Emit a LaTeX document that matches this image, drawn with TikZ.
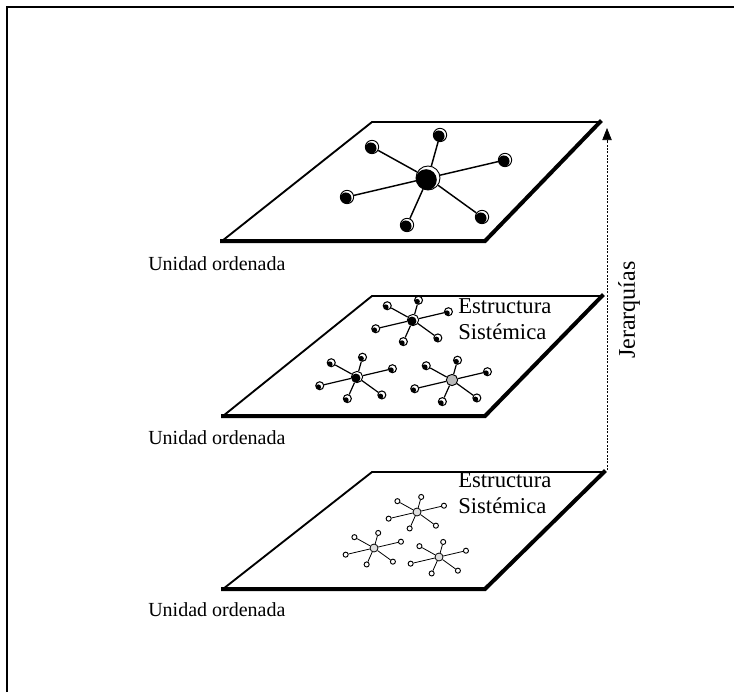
\documentclass[tikz,border=0pt]{standalone}
\usepackage{fontspec}
\setmainfont{Liberation Serif}
\usetikzlibrary{arrows.meta}

% one star: hub name, x, y, scale, hub style, satellite style, link style
\newcommand{\starnet}[7]{%
  \node[#5] (#1) at (#2,#3) {};
  \foreach \i/\dx/\dy in {1/-56/-31, 2/12/-43, 3/77/-18, 4/-81/19, 5/-21/47, 6/54/39}{
    \node[#6] (#1-\i) at ({#2+#4*(\dx)},{#3+#4*(\dy)}) {};
    \draw[#7] (#1) -- (#1-\i);
  }
}

\begin{document}
\begin{tikzpicture}[x=0.75pt, y=-0.75pt,
  every node/.style={font=\fontsize{15pt}{18pt}\selectfont},
  rim/.style={line width=1.4pt, line cap=round, line join=round},
  heavy/.style={line width=3pt, line cap=rect, line join=miter},
  ball/.style={circle, draw, fill=white, inner sep=0pt, line width=0.7pt},
  bighub/.style={ball, minimum size=18pt,
    path picture={\fill[black] ([shift={(-1.4pt,-1.4pt)}]path picture bounding box.center) circle (8pt);}},
  bigsat/.style={ball, minimum size=10pt,
    path picture={\fill[black] ([shift={(-0.9pt,-0.9pt)}]path picture bounding box.center) circle (4.3pt);}},
  midhub/.style={ball, minimum size=8.5pt,
    path picture={\fill[black] ([shift={(-0.8pt,-0.8pt)}]path picture bounding box.center) circle (3.4pt);}},
  greyhub/.style={ball, minimum size=8.5pt, fill=gray!55},
  midsat/.style={ball, minimum size=6pt, line width=0.8pt,
    path picture={\fill[black] ([shift={(-1pt,-1pt)}]path picture bounding box.center) circle (2pt);}},
  lowhub/.style={ball, minimum size=6pt, line width=0.6pt, fill=gray!25},
  lowsat/.style={ball, minimum size=3.8pt, line width=0.7pt},
  toplink/.style={line width=1.1pt},
  midlink/.style={line width=0.9pt},
  lowlink/.style={line width=0.6pt},
  lab/.style={anchor=west, inner sep=0pt},
  big/.style={font=\fontsize{17pt}{20pt}\selectfont},
]
\useasboundingbox (0,0) rectangle (734,692);

% frame
\draw[line width=1.5pt] (7,692) -- (7,7) -- (734,7);

% planes
\coordinate (top nw) at (372,122);
\coordinate (top ne) at (600,122);
\coordinate (top se) at (485,241);
\coordinate (top sw) at (222,241);
\coordinate (mid nw) at (372,296);
\coordinate (mid ne) at (602,296);
\coordinate (mid se) at (485,416);
\coordinate (mid sw) at (223,416);
\coordinate (low nw) at (372,472);
\coordinate (low ne) at (604,472);
\coordinate (low se) at (485,589);
\coordinate (low sw) at (223,589);
\foreach \p in {top, mid, low}{
  \draw[rim] (\p\space sw) -- (\p\space nw) -- (\p\space ne);
  \draw[heavy] (\p\space ne) -- (\p\space se) -- (\p\space sw);
}

% stars
\starnet{t}{428}{178}{1}{bighub}{bigsat}{toplink}
\starnet{m1}{413}{320}{0.46}{midhub}{midsat}{midlink}
\starnet{m2}{357}{377}{0.46}{midhub}{midsat}{midlink}
\starnet{m3}{452}{380}{0.46}{greyhub}{midsat}{midlink}
\starnet{l1}{417}{512}{0.35}{lowhub}{lowsat}{lowlink}
\starnet{l2}{374}{548}{0.35}{lowhub}{lowsat}{lowlink}
\starnet{l3}{439}{557}{0.35}{lowhub}{lowsat}{lowlink}

% labels
\node[lab] (u top) at (148,264) {Unidad ordenada};
\node[lab] (u mid) at (148,438) {Unidad ordenada};
\node[lab] (u low) at (148,610) {Unidad ordenada};
\node[big, anchor=north west, align=left, inner sep=0pt] (e mid) at (458,298) {Estructura\\Sistémica};
\node[big, anchor=north west, align=left, inner sep=0pt] (e low) at (458,472) {Estructura\\Sistémica};

% hierarchy arrow
\coordinate (arr bot) at (607,470);
\coordinate (arr top) at (607,128);
\draw[line width=0.5pt, dash pattern=on 1.5pt off 1pt, -{Triangle[width=7pt,length=9pt]}] (arr bot) -- (arr top);
\node[font=\fontsize{18pt}{21pt}\selectfont, rotate=90] (jer) at (629,310) {Jerarquías};
\end{tikzpicture}
\end{document}
